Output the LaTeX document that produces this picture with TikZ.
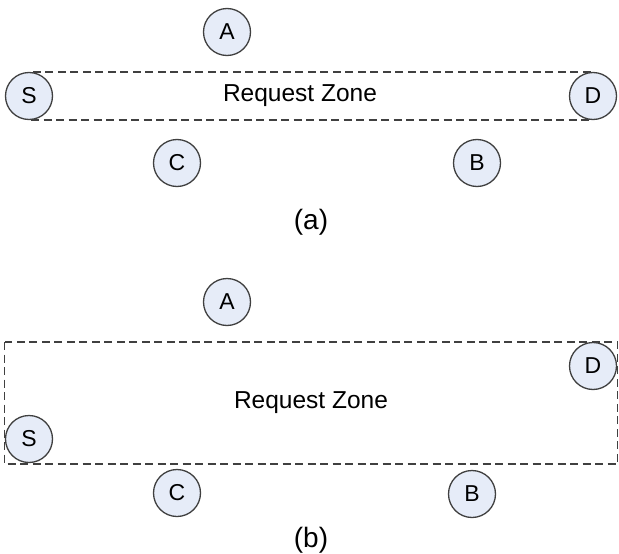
\documentclass[tikz,border=0pt]{standalone}
\usepackage{fontspec}
\setmainfont{Liberation Sans}
\usetikzlibrary{positioning}
\definecolor{nodefill}{HTML}{E6ECF8}
\definecolor{nodeline}{HTML}{404040}

\begin{document}
\begin{tikzpicture}[x=1pt,y=-1pt]
        \tikzstyle{station}=[circle,draw=nodeline,line width=1.3pt,fill=nodefill,minimum size=47pt,inner sep=0pt,font=\fontsize{23}{26}\selectfont]
        \tikzstyle{zone}=[draw=nodeline,line width=1.4pt,dash pattern=on 8pt off 4.5pt]
        \tikzstyle{label}=[font=\fontsize{24.5}{28}\selectfont]
        \tikzstyle{caption}=[font=\fontsize{28}{32}\selectfont]
          \useasboundingbox (0,0) rectangle (619,554);
          % (a): narrow zone between S and D
          \draw [zone] (29,72) rectangle (593,120);
          \node (zoneA) at (300,96) [label] {Request Zone};
          \node (Aa) at (227,32) [station] {A};
          \node (Sa) at (29,96) [station] {S};
          \node (Da) at (593,96) [station] {D};
          \node (Ca) at (177,163) [station] {C};
          \node (Ba) at (477,163) [station] {B};
          \node (capA) at (311,222) [caption] {(a)};
          % (b): wide zone
          \draw [zone] (4.5,342) rectangle (617.5,464);
          \node (zoneB) at (311,403) [label] {Request Zone};
          \node (Ab) at (227,302) [station] {A};
          \node (Sb) at (29,439) [station] {S};
          \node (Db) at (593,366) [station] {D};
          \node (Cb) at (177,493) [station] {C};
          \node (Bb) at (472,494) [station] {B};
          \node (capB) at (311,540) [caption] {(b)};
      \end{tikzpicture}
\end{document}
